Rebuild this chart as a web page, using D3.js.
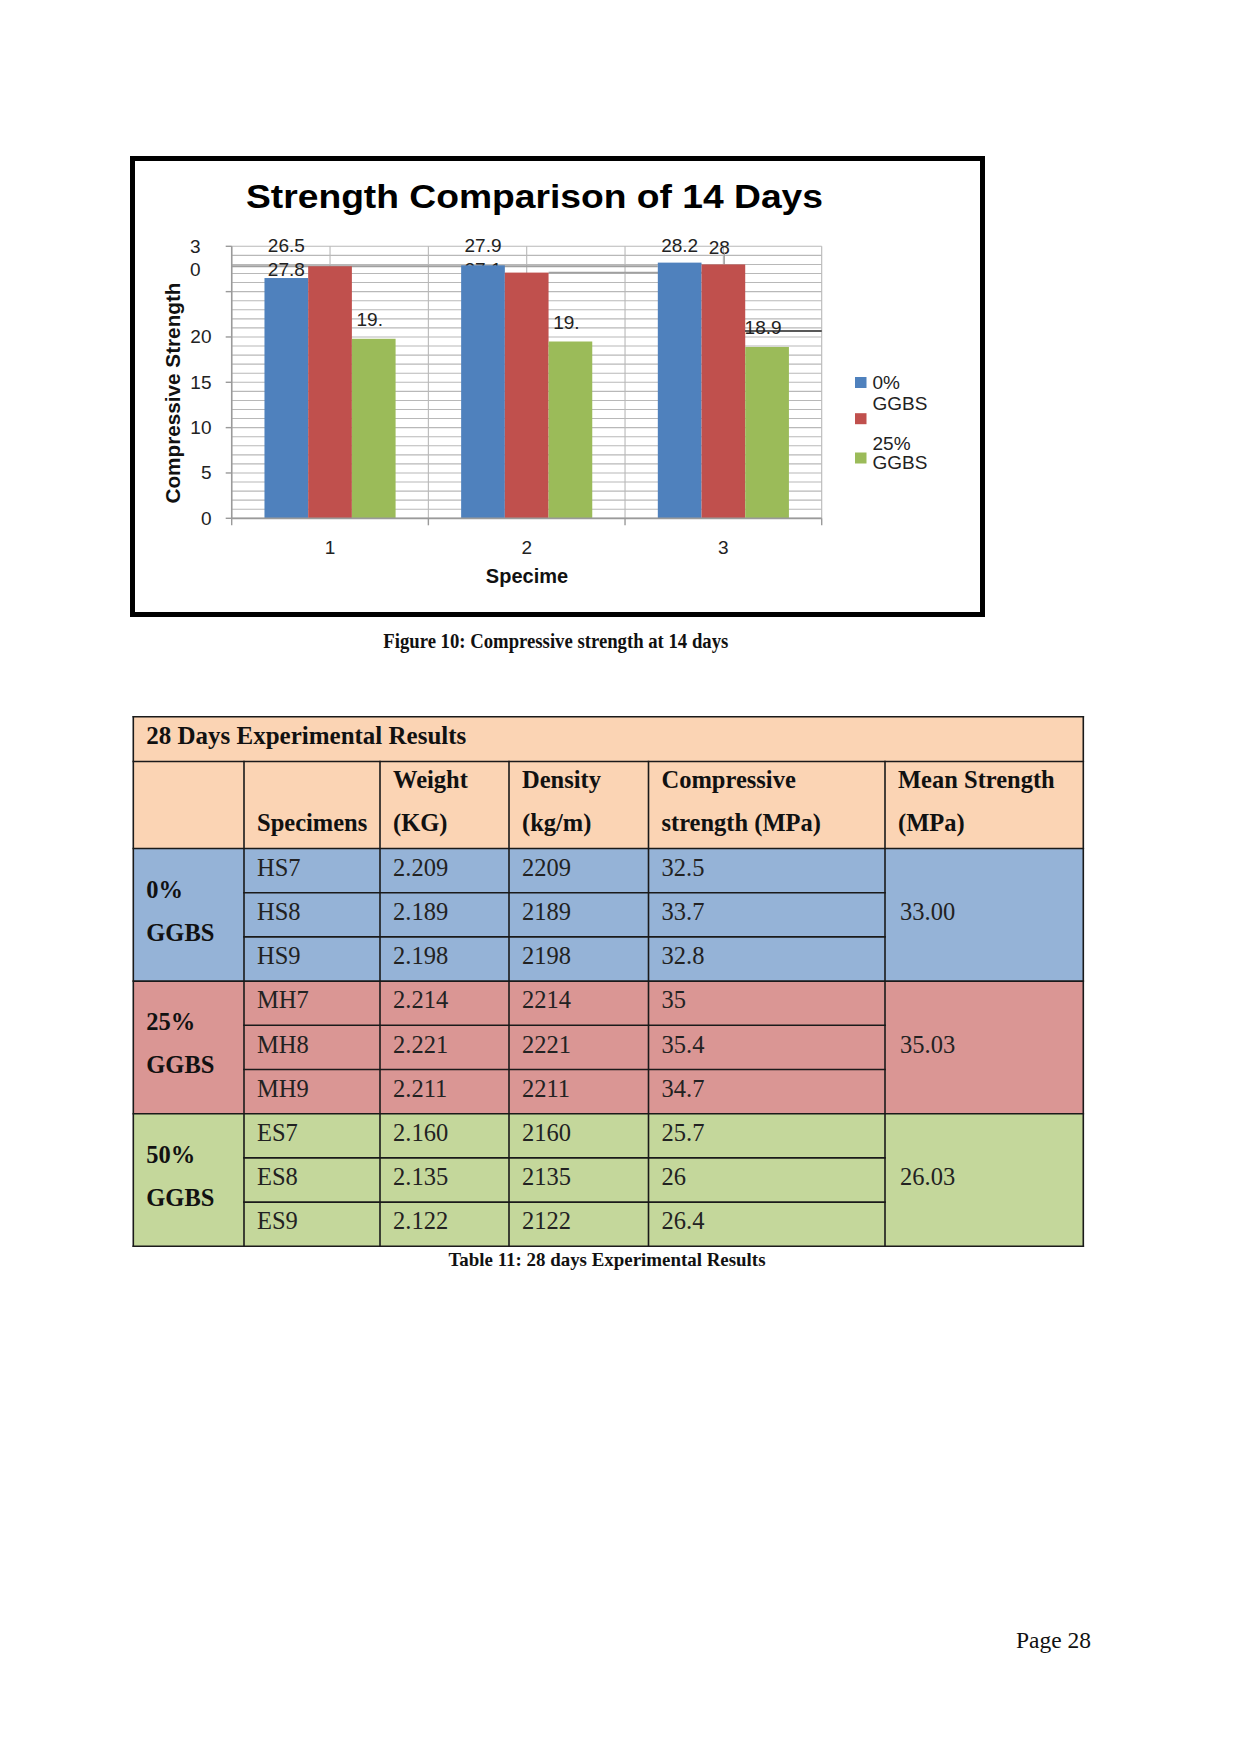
<!DOCTYPE html>
<html>
<head>
<meta charset="utf-8">
<script src="https://cdn.jsdelivr.net/npm/d3@7"></script>
<style>
  html, body { margin: 0; padding: 0; background: #fff; }
  svg { display: block; }
</style>
</head>
<body>
<script>
// ---------- Chart data ----------
const chartTitle = "Strength Comparison of 14 Days";
const categories = ["1", "2", "3"];
const seriesNames = ["0% GGBS", "25% GGBS", "50% GGBS"];
const series0 = [26.5, 27.9, 28.2];   // 0% GGBS (blue)
const series25 = [27.8, 27.1, 28.0];  // 25% GGBS (red)
const series50 = [19.8, 19.5, 18.9];  // 50% GGBS (green)
const greenLabelText = ["19.", "19.", "18.9"];
const yTickValues = [0, 5, 10, 15, 20, 25, 30];
const yAxisTitle = "Compressive Strength";
const xAxisTitle = "Specime";
const figCaption = "Figure 10: Compressive strength at 14 days";

// ---------- Table data ----------
const tableTitle = "28 Days Experimental Results";
const headerLines = [["", ""], ["", "Specimens"], ["Weight", "(KG)"], ["Density", "(kg/m)"], ["Compressive", "strength (MPa)"], ["Mean Strength", "(MPa)"]];
const groupLabels = [["0%", "GGBS"], ["25%", "GGBS"], ["50%", "GGBS"]];
const specimens = ["HS7", "HS8", "HS9", "MH7", "MH8", "MH9", "ES7", "ES8", "ES9"];
const weights = ["2.209", "2.189", "2.198", "2.214", "2.221", "2.211", "2.160", "2.135", "2.122"];
const densities = ["2209", "2189", "2198", "2214", "2221", "2211", "2160", "2135", "2122"];
const strengths = ["32.5", "33.7", "32.8", "35", "35.4", "34.7", "25.7", "26", "26.4"];
const meanStrengths = ["33.00", "35.03", "26.03"];
const tableCaption = "Table 11: 28 days Experimental Results";
const pageLabel = "Page 28";

// ---------- Setup ----------
const W = 1241, H = 1756;
const svg = d3.select("body").append("svg").attr("width", W).attr("height", H);
svg.append("rect").attr("width", W).attr("height", H).attr("fill", "#fff");

const SANS = "'Liberation Sans', Arial, sans-serif";
const SERIF = "'Liberation Serif', 'Times New Roman', serif";
const colors = d3.scaleOrdinal(seriesNames, ["#4F81BD", "#C0504D", "#9BBB59"]);

// Frame
svg.append("rect").attr("x", 132.5).attr("y", 158.5).attr("width", 850).attr("height", 456)
  .attr("fill", "none").attr("stroke", "#000").attr("stroke-width", 5);

// Title
svg.append("text").attr("x", 246).attr("y", 207.5)
  .attr("font-family", SANS).attr("font-weight", "bold").attr("font-size", 33)
  .attr("textLength", 577).attr("lengthAdjust", "spacingAndGlyphs")
  .attr("fill", "#000").text(chartTitle);

// Scales
const plotL = 231.7, plotR = 821.7;
const y = d3.scaleLinear().domain([0, 30]).range([518.3, 246.3]);
const x0 = d3.scaleBand().domain(categories).range([plotL, plotR]).padding(0);
const x1 = d3.scaleBand().domain(seriesNames).range([0, x0.bandwidth()]).paddingInner(0).paddingOuter(0.75);

const plot = svg.append("g");
const gridC = "#b8b8b8";

// Horizontal gridlines every unit
plot.append("g").selectAll("line").data(d3.range(0, 31)).join("line")
  .attr("x1", plotL).attr("x2", plotR)
  .attr("y1", d => y(d)).attr("y2", d => y(d))
  .attr("stroke", gridC).attr("stroke-width", 1.1);

// Vertical gridlines at band edges and band middles
const vgrid = [];
categories.forEach(c => { vgrid.push(x0(c)); vgrid.push(x0(c) + x0.bandwidth() / 2); });
vgrid.push(plotR);
plot.append("g").selectAll("line").data(vgrid).join("line")
  .attr("x1", d => d).attr("x2", d => d)
  .attr("y1", y(30)).attr("y2", y(0))
  .attr("stroke", gridC).attr("stroke-width", 1.1);

// Extra artifact guide lines seen in the reference
plot.append("line").attr("x1", plotL).attr("x2", x0("3") + x1(seriesNames[0]))
  .attr("y1", y(series25[0])).attr("y2", y(series25[0]))
  .attr("stroke", "#a0a0a0").attr("stroke-width", 1.8);
plot.append("line").attr("x1", x0("2") + x1(seriesNames[1]) + x1.bandwidth()).attr("x2", x0("3") + x0.bandwidth() / 2)
  .attr("y1", y(series25[1])).attr("y2", y(series25[1]))
  .attr("stroke", "#a0a0a0").attr("stroke-width", 1.8);

// Data labels (drawn before bars so bars overlap them, as in reference)
const labFont = 19;
const labG = plot.append("g").attr("font-family", SANS).attr("font-size", labFont).attr("fill", "#222")
  .attr("text-anchor", "middle").attr("dominant-baseline", "central");
const blueC = c => x0(c) + x1(seriesNames[0]) + x1.bandwidth() / 2;
const redC = c => x0(c) + x1(seriesNames[1]) + x1.bandwidth() / 2;
const greenC = c => x0(c) + x1(seriesNames[2]) + x1.bandwidth() / 2;
// top row
labG.append("text").attr("x", blueC("1")).attr("y", y(30) - 1).text(series0[0]);
labG.append("text").attr("x", blueC("1")).attr("y", y(27.45)).text(series25[0]);
labG.append("text").attr("x", blueC("2")).attr("y", y(30) - 1).text(series0[1]);
labG.append("text").attr("x", blueC("2")).attr("y", y(27.45)).text(series25[1]);
labG.append("text").attr("x", blueC("3")).attr("y", y(30) - 1).text(series0[2]);
labG.append("text").attr("x", redC("3") - 4).attr("y", y(30) + 1).text(series25[2]);
// leader for "28"
plot.append("line").attr("x1", redC("3") + 1).attr("x2", redC("3") + 1)
  .attr("y1", y(30) + 6).attr("y2", y(series25[2]))
  .attr("stroke", "#999").attr("stroke-width", 1);

// Bars
const groups = categories.map((c, i) => ({ cat: c, vals: [series0[i], series25[i], series50[i]] }));
plot.append("g").selectAll("g").data(groups).join("g")
  .attr("transform", d => `translate(${x0(d.cat)},0)`)
  .selectAll("rect").data(d => d.vals.map((v, j) => ({ name: seriesNames[j], v })))
  .join("rect")
  .attr("x", d => x1(d.name)).attr("width", x1.bandwidth())
  .attr("y", d => y(d.v)).attr("height", d => y(0) - y(d.v))
  .attr("fill", d => colors(d.name));

// Green labels
categories.forEach((c, i) => {
  labG.append("text").attr("x", greenC(c) - 4).attr("y", y(series50[i]) - 19).text(greenLabelText[i]);
});
// strike line through 18.9
plot.append("line").attr("x1", greenC("3") - 22).attr("x2", plotR)
  .attr("y1", y(series50[2]) - 16).attr("y2", y(series50[2]) - 16)
  .attr("stroke", "#222").attr("stroke-width", 1.6);

// Axes lines
plot.append("line").attr("x1", plotL).attr("x2", plotR).attr("y1", y(0)).attr("y2", y(0))
  .attr("stroke", "#9a9a9a").attr("stroke-width", 1.8);
plot.append("line").attr("x1", plotL).attr("x2", plotL).attr("y1", y(30)).attr("y2", y(0))
  .attr("stroke", "#9a9a9a").attr("stroke-width", 1.5);

// Y ticks
plot.append("g").selectAll("line").data(yTickValues).join("line")
  .attr("x1", plotL - 6).attr("x2", plotL).attr("y1", d => y(d)).attr("y2", d => y(d))
  .attr("stroke", "#9a9a9a").attr("stroke-width", 1.4);
const yLab = plot.append("g").attr("font-family", SANS).attr("font-size", 19).attr("fill", "#222")
  .attr("dominant-baseline", "central");
yLab.selectAll("text").data(yTickValues.filter(v => v <= 20)).join("text")
  .attr("x", 211.5).attr("y", d => y(d)).attr("text-anchor", "end").text(d => d);
// the "30" label wrapped into two lines
const t30 = String(yTickValues[yTickValues.length - 1]);
yLab.append("text").attr("x", 190).attr("y", y(30)).text(t30[0]);
yLab.append("text").attr("x", 190).attr("y", y(30) + 23).text(t30[1]);

// X ticks
plot.append("g").selectAll("line").data(categories.map(c => x0(c)).concat([plotR])).join("line")
  .attr("x1", d => d).attr("x2", d => d).attr("y1", y(0)).attr("y2", y(0) + 7)
  .attr("stroke", "#9a9a9a").attr("stroke-width", 1.4);
plot.append("g").selectAll("text").data(categories).join("text")
  .attr("x", d => x0(d) + x0.bandwidth() / 2).attr("y", 547).attr("dominant-baseline", "central")
  .attr("text-anchor", "middle").attr("font-family", SANS).attr("font-size", 19).attr("fill", "#222")
  .text(d => d);

// Axis titles
svg.append("text").attr("transform", "translate(172,393) rotate(-90)")
  .attr("text-anchor", "middle").attr("dominant-baseline", "central")
  .attr("font-family", SANS).attr("font-weight", "bold").attr("font-size", 20.5).attr("fill", "#111")
  .attr("textLength", 221).attr("lengthAdjust", "spacingAndGlyphs")
  .text(yAxisTitle);
svg.append("text").attr("x", 527).attr("y", 576).attr("text-anchor", "middle").attr("dominant-baseline", "central")
  .attr("font-family", SANS).attr("font-weight", "bold").attr("font-size", 20).attr("fill", "#111")
  .text(xAxisTitle);

// Legend (wrapped as in reference)
const legX = 855, legY = 382.5;
const legSq = [legY, legY + 36.2, legY + 75.5];
svg.append("g").selectAll("rect").data(seriesNames).join("rect")
  .attr("x", legX).attr("y", (d, i) => legSq[i] - 5.5).attr("width", 11.5).attr("height", 11)
  .attr("fill", d => colors(d));
const legLines = [
  { t: seriesNames[0].split(" ")[0], dy: 0 },
  { t: seriesNames[0].split(" ")[1], dy: 20.6 },
  { t: seriesNames[1].split(" ")[0], dy: 60.6 },
  { t: seriesNames[1].split(" ")[1], dy: 80 }
];
svg.append("g").selectAll("text").data(legLines).join("text")
  .attr("x", 872.5).attr("y", d => legY + d.dy).attr("dominant-baseline", "central")
  .attr("font-family", SANS).attr("font-size", 19).attr("fill", "#222").text(d => d.t);

// Figure caption
svg.append("text").attr("x", 383.3).attr("y", 648.3)
  .attr("font-family", SERIF).attr("font-weight", "bold").attr("font-size", 20)
  .attr("textLength", 345).attr("lengthAdjust", "spacingAndGlyphs").attr("fill", "#111")
  .text(figCaption);

// ---------- Table ----------
const cols = [133.3, 244, 380, 509, 648.5, 885, 1083.3];
const tTop = 716.7, titleBot = 761.5, headBot = 848.5, rowH = 44.2;
const groupFill = ["#95B3D7", "#DA9694", "#C4D79B"];
const peach = "#FBD4B4";
const tbl = svg.append("g");
const FS = 24.5;
const pad = 13;

// backgrounds
tbl.append("rect").attr("x", cols[0]).attr("y", tTop).attr("width", cols[6] - cols[0]).attr("height", headBot - tTop).attr("fill", peach);
tbl.selectAll("rect.g").data(groupFill).join("rect").attr("class", "g")
  .attr("x", cols[0]).attr("y", (d, i) => headBot + i * 3 * rowH)
  .attr("width", cols[6] - cols[0]).attr("height", 3 * rowH).attr("fill", d => d);

// lines
const lc = "#1a1a1a", lw = 1.6;
const lines = [];
[tTop, titleBot, headBot, headBot + 3 * rowH, headBot + 6 * rowH, headBot + 9 * rowH].forEach(yy => lines.push([cols[0], yy, cols[6], yy]));
for (let g = 0; g < 3; g++) for (let r = 1; r < 3; r++) {
  const yy = headBot + (g * 3 + r) * rowH;
  lines.push([cols[1], yy, cols[5], yy]);
}
lines.push([cols[0], tTop, cols[0], headBot + 9 * rowH]);
lines.push([cols[6], tTop, cols[6], headBot + 9 * rowH]);
for (let k = 1; k < 6; k++) lines.push([cols[k], titleBot, cols[k], headBot + 9 * rowH]);
tbl.append("g").selectAll("line").data(lines).join("line")
  .attr("x1", d => d[0]).attr("y1", d => d[1]).attr("x2", d => d[2]).attr("y2", d => d[3])
  .attr("stroke", lc).attr("stroke-width", lw).attr("stroke-linecap", "square");

// title row
tbl.append("text").attr("x", cols[0] + pad).attr("y", tTop + 27.3)
  .attr("font-family", SERIF).attr("font-weight", "bold").attr("font-size", FS).attr("fill", "#111")
  .attr("textLength", 320).attr("lengthAdjust", "spacingAndGlyphs")
  .text(tableTitle);
// header
headerLines.forEach((hl, k) => {
  hl.forEach((t, li) => {
    if (!t) return;
    tbl.append("text").attr("x", cols[k] + pad).attr("y", titleBot + 26 + li * 43)
      .attr("font-family", SERIF).attr("font-weight", "bold").attr("font-size", FS).attr("fill", "#111").text(t);
  });
});
// group labels
groupLabels.forEach((gl, g) => {
  const T = headBot + g * 3 * rowH;
  gl.forEach((t, li) => {
    tbl.append("text").attr("x", cols[0] + pad).attr("y", T + 49 + li * 43)
      .attr("font-family", SERIF).attr("font-weight", "bold").attr("font-size", FS).attr("fill", "#111").text(t);
  });
});
// data rows
const colData = [specimens, weights, densities, strengths];
colData.forEach((arr, ci) => {
  tbl.append("g").selectAll("text").data(arr).join("text")
    .attr("x", cols[ci + 1] + pad).attr("y", (d, i) => headBot + i * rowH + 27.3)
    .attr("font-family", SERIF).attr("font-size", FS).attr("fill", "#222").text(d => d);
});
// mean
tbl.append("g").selectAll("text").data(meanStrengths).join("text")
  .attr("x", cols[5] + pad + 2).attr("y", (d, i) => headBot + (i * 3 + 1) * rowH + 27.3)
  .attr("font-family", SERIF).attr("font-size", FS).attr("fill", "#222").text(d => d);

// table caption
svg.append("text").attr("x", 448.5).attr("y", 1265.5)
  .attr("font-family", SERIF).attr("font-weight", "bold").attr("font-size", 19)
  .attr("textLength", 317).attr("lengthAdjust", "spacingAndGlyphs").attr("fill", "#111")
  .text(tableCaption);

// page number
svg.append("text").attr("x", 1016).attr("y", 1648.3)
  .attr("font-family", SERIF).attr("font-size", 23.5).attr("fill", "#111").text(pageLabel);
</script>
</body>
</html>
